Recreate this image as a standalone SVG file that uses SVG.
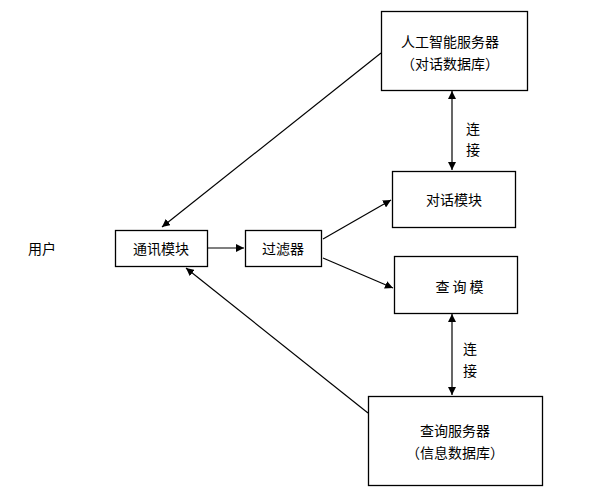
<svg xmlns="http://www.w3.org/2000/svg" width="589" height="495" viewBox="0 0 589 495">
<defs>
<marker id="ah" viewBox="0 0 10 10" refX="10" refY="5" markerWidth="8" markerHeight="8" markerUnits="userSpaceOnUse" orient="auto-start-reverse">
<path d="M0,0 L10,5 L0,10 z" fill="#000"/>
</marker>
<style>
rect{fill:#fff;stroke:#000;stroke-width:1.3}
text{font-family:"Noto Sans CJK SC","Liberation Sans",sans-serif;font-size:14px;fill:#000;text-anchor:middle;dominant-baseline:central}
line{stroke:#000;stroke-width:1.2;marker-end:url(#ah)}
line.dbl{marker-start:url(#ah)}
</style>
</defs>
<rect x="0" y="0" width="589" height="495" style="fill:#fff;stroke:none"/>
<g id="connectors">
<line x1="381" y1="53" x2="162" y2="227"/>
<line x1="208" y1="248" x2="244" y2="248"/>
<line x1="323" y1="239" x2="391" y2="200"/>
<line x1="323" y1="258" x2="393" y2="288"/>
<line x1="368" y1="413" x2="186" y2="268"/>
<line class="dbl" x1="452" y1="91" x2="452" y2="170"/>
<line class="dbl" x1="452" y1="314" x2="452" y2="395"/>
<text x="473" y="128">连</text>
<text x="473" y="149">接</text>
<text x="470" y="348">连</text>
<text x="470" y="370">接</text>
</g>
<g id="user"><text x="42" y="248">用户</text></g>
<g id="ai-server"><rect x="381.5" y="11.5" width="146" height="79"/><text x="450" y="41">人工智能服务器</text><text x="450" y="63">（对话数据库）</text></g>
<g id="comm"><rect x="115.5" y="230.5" width="92" height="36"/><text x="161" y="248">通讯模块</text></g>
<g id="filter"><rect x="245.5" y="230.5" width="76" height="36"/><text x="283" y="248">过滤器</text></g>
<g id="dialog"><rect x="392.5" y="171.5" width="123" height="56"/><text x="454" y="199">对话模块</text></g>
<g id="query"><rect x="394.5" y="256.5" width="123" height="57"/><text x="461" y="286" style="letter-spacing:3px">查询模</text></g>
<g id="query-server"><rect x="368.5" y="396.5" width="174" height="89"/><text x="455" y="430">查询服务器</text><text x="455" y="452">（信息数据库）</text></g>
</svg>
